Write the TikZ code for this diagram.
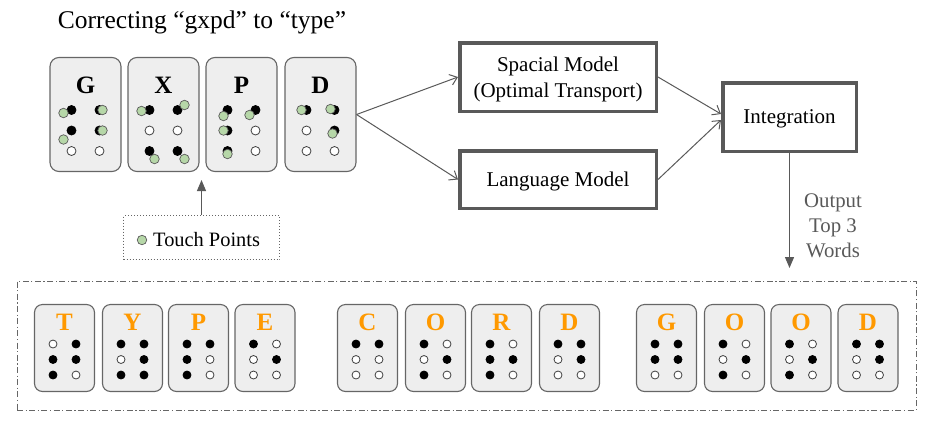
\documentclass[tikz,border=0pt]{standalone}
\usepackage{fontspec}
\setmainfont{Liberation Serif}
\usepackage{tikz}
\usetikzlibrary{positioning,arrows.meta,calc}
\definecolor{keyfill}{HTML}{EEEEEE}
\definecolor{keyline}{HTML}{666666}
\definecolor{boxline}{HTML}{595959}
\definecolor{touchgreen}{HTML}{B6D7A8}
\definecolor{letterorange}{HTML}{FF9900}
\tikzset{
  keyTop/.style={ draw=keyline, fill=keyfill, line width=1.1pt, rounded corners=9pt, minimum width=71pt, minimum height=114pt }
}
\tikzset{
  keyBot/.style={ draw=keyline, fill=keyfill, line width=1.1pt, rounded corners=8pt, minimum width=60pt, minimum height=87pt }
}
\tikzset{
  dotOn/.style={ circle, draw=black, fill=black, line width=0.8pt, inner sep=0pt, minimum size=9pt }
}
\tikzset{
  dotOff/.style={ circle, draw=black!75, fill=white, line width=0.8pt, inner sep=0pt, minimum size=9pt }
}
\tikzset{
  touch/.style={ circle, draw=boxline, fill=touchgreen, line width=0.7pt, inner sep=0pt, minimum size=9.5pt }
}
\tikzset{
  modelBox/.style={ draw=boxline, line width=3.5pt, fill=white, align=center, text depth=0pt, font=\fontsize{21}{26.5}\selectfont }
}
\tikzset{
  modelArrow/.style={ draw=boxline, line width=1pt, -{Straight Barb[length=7pt,width=11pt]} }
}
\tikzset{
  grayArrow/.style={ draw=boxline, line width=1.2pt, -{Triangle[length=11pt,width=9pt]} }
}
\newcommand{\topCell}[4]{%
  \node[keyTop] (key#1) at (#2,114.5) {};
  \node[anchor=base, font=\bfseries\fontsize{25}{25}\selectfont] (let#1) at (#2,93) {#3};
  \foreach \st [count=\i from 0] in {#4}{%
    \pgfmathsetmacro\dotx{#2+(2*mod(\i,2)-1)*14}%
    \pgfmathsetmacro\doty{110+int(\i/2)*20.5}%
    \node[\st] (#1-\i) at (\dotx,\doty) {};
  }%
}
\newcommand{\wordCell}[4]{%
  \node[keyBot] (#1) at (#2,348) {};
  \node[anchor=base, text=letterorange, font=\bfseries\fontsize{25}{25}\selectfont] (#1let) at (#2,330.5) {#3};
  \foreach \st [count=\i from 0] in {#4}{%
    \pgfmathsetmacro\dotx{#2+(2*mod(\i,2)-1)*11.5}%
    \pgfmathsetmacro\doty{344+int(\i/2)*15.5}%
    \node[\st, minimum size=8pt] (#1-\i) at (\dotx,\doty) {};
  }%
}

\begin{document}
\begin{tikzpicture}[x=1pt, y=-1pt]
  \useasboundingbox (0,0) rectangle (931,424);
  \node[anchor=base, font=\fontsize{25.5}{30}\selectfont] (title) at (202,28) {Correcting “gxpd” to “type”};

  % typed keys with the touches
  \topCell{G}{85.5}{G}{dotOn,dotOn,dotOn,dotOn,dotOff,dotOff}
  \topCell{X}{163.5}{X}{dotOn,dotOn,dotOff,dotOff,dotOn,dotOn}
  \topCell{P}{241.5}{P}{dotOn,dotOn,dotOn,dotOff,dotOn,dotOff}
  \topCell{D}{320.5}{D}{dotOn,dotOn,dotOff,dotOn,dotOff,dotOff}
  \foreach \d/\ox/\oy in {G-0/-8/3, G-1/3/0, G-2/-8/9, G-3/3/0,
      X-0/-8/1, X-1/7/-5, X-4/5/8, X-5/7/8,
      P-0/-4/6, P-1/-6/5, P-2/-4/0, P-4/0/3,
      D-0/-5/0, D-1/-4/-1, D-3/-2/3}
    \node[touch] (t\d) at ($(\d)+(\ox,\oy)$) {};

  % legend
  \node[draw=keyline, dotted, line width=1pt, minimum width=156pt, minimum height=44pt] (legend) at (201.5,237.5) {};
  \node[touch] (legendDot) at (142,240) {};
  \node[anchor=base west, inner sep=0pt, font=\fontsize{20.4}{24}\selectfont] (legendText) at (153,246) {Touch Points};
  \coordinate (touchTip) at (201.5,180);
  \draw[grayArrow] (legend) -- (touchTip);

  % models
  \node[modelBox, minimum width=196.5pt, minimum height=68.5pt] (spacial) at (558,77) {Spacial Model\\(Optimal Transport)};
  \node[modelBox, minimum width=196.5pt, minimum height=57.5pt] (language) at (558,179.5) {Language Model};
  \node[modelBox, minimum width=133.5pt, minimum height=68.5pt] (integ) at (789.5,117) {Integration};
  \draw[modelArrow] (keyD.east) -- (spacial.west);
  \draw[modelArrow] (keyD.east) -- (language.west);
  \draw[modelArrow] (spacial.east) -- ([yshift=3pt]integ.west);
  \draw[modelArrow] (language.east) -- ([yshift=-3pt]integ.west);

  \coordinate (outTip) at (789.5,268);
  \draw[grayArrow] (integ) -- (outTip);
  \node[align=center, text=boxline, font=\fontsize{20.8}{25}\selectfont] (outLabel) at (833,226) {Output\\Top 3\\Words};

  % candidate words
  \node[draw=keyline, line width=1pt, dash pattern=on 6pt off 2.5pt on 1.2pt off 2.5pt, minimum width=899pt, minimum height=129pt] (candidates) at (466.5,345.5) {};
  \wordCell{wA1}{64.5}{T}{dotOff,dotOn,dotOn,dotOn,dotOn,dotOff}
  \wordCell{wA2}{132.5}{Y}{dotOn,dotOn,dotOff,dotOn,dotOn,dotOn}
  \wordCell{wA3}{198.5}{P}{dotOn,dotOn,dotOn,dotOff,dotOn,dotOff}
  \wordCell{wA4}{265}{E}{dotOn,dotOff,dotOff,dotOn,dotOff,dotOff}
  \wordCell{wB1}{367.5}{C}{dotOn,dotOn,dotOff,dotOff,dotOff,dotOff}
  \wordCell{wB2}{435.5}{O}{dotOn,dotOff,dotOff,dotOn,dotOn,dotOff}
  \wordCell{wB3}{501.5}{R}{dotOn,dotOff,dotOn,dotOn,dotOn,dotOff}
  \wordCell{wB4}{569.5}{D}{dotOn,dotOn,dotOff,dotOn,dotOff,dotOff}
  \wordCell{wC1}{666.5}{G}{dotOn,dotOn,dotOn,dotOn,dotOff,dotOff}
  \wordCell{wC2}{734.5}{O}{dotOn,dotOff,dotOff,dotOn,dotOn,dotOff}
  \wordCell{wC3}{801}{O}{dotOn,dotOff,dotOff,dotOn,dotOn,dotOff}
  \wordCell{wC4}{868}{D}{dotOn,dotOn,dotOff,dotOn,dotOff,dotOff}
\end{tikzpicture}
\end{document}
